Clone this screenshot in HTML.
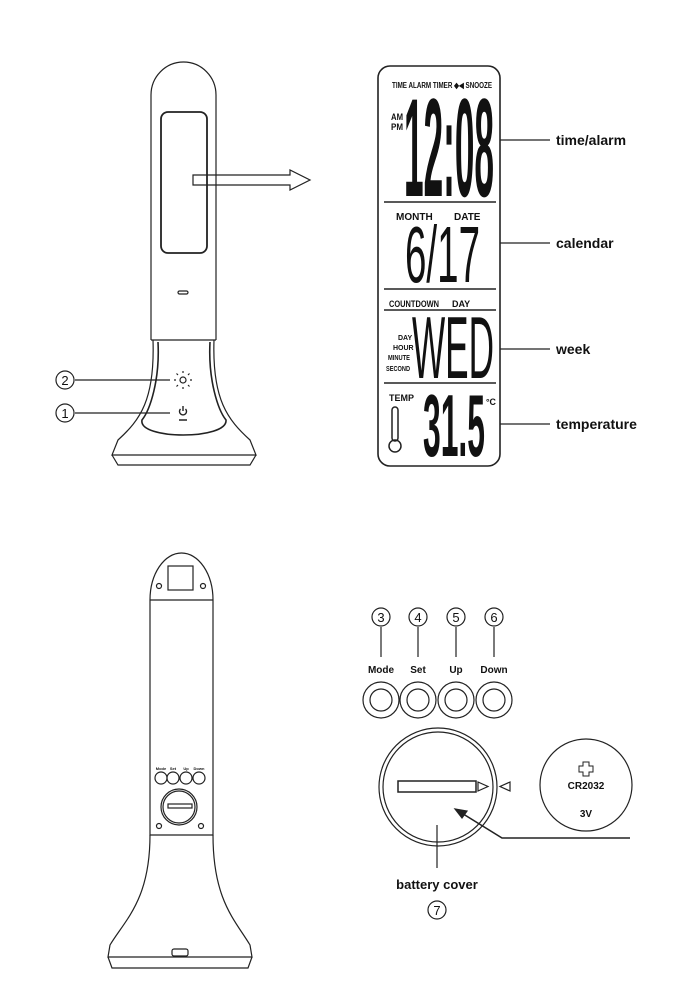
<!DOCTYPE html>
<html><head><meta charset="utf-8"><style>
html,body{margin:0;padding:0;background:#fff}
svg{display:block}
text{font-family:"Liberation Sans",sans-serif}
</style></head><body>
<svg width="697" height="1000" viewBox="0 0 697 1000" xmlns="http://www.w3.org/2000/svg">
<g fill="none" stroke="#222" stroke-width="1.2">
<!-- Top lamp -->
<path d="M151,340 L151,95 A32.5,33 0 0 1 216,95 L216,340"/>
<rect x="161" y="112" width="46" height="141" rx="7" stroke-width="1.8"/>
<rect x="178" y="291" width="10" height="3" rx="1.5"/>
<path d="M151,340 L216,340"/>
<path d="M153,340 C155,400 140,420 118,440 L112,455 L256,455 L250,440 C228,420 212,400 214,340"/>
<path d="M158,342 C160,380 150,410 142,420 C138,440 228,440 226,420 C218,410 208,380 210,342" stroke-width="1.6"/>
<path d="M112,455 L118,465 L250,465 L256,455"/>
<path d="M193,175 L290,175 L290,170 L310,180 L290,190 L290,185 L193,185 Z"/>
<circle cx="65" cy="380" r="9"/>
<circle cx="65" cy="413" r="9"/>
<path d="M75,380 L170,380 M75,413 L170,413"/>
<circle cx="183" cy="380" r="3"/>
<path d="M183,373v-2M183,387v2M176,380h-2M190,380h2M178,375l-1.5,-1.5M188,385l1.5,1.5M188,375l1.5,-1.5M178,385l-1.5,1.5"/>
<path d="M180.5,409 A3.5,3.5 0 1 0 185.5,409 M183,406v5" stroke-width="1.4"/>
<path d="M179,420h8" stroke-width="1.5"/>
<!-- LCD -->
<rect x="378" y="66" width="122" height="400" rx="12" stroke-width="1.6"/>
<path d="M384,202H496M384,289H496M384,310H496M384,383H496" stroke-width="1.5"/>
<path d="M500,140H550M500,243H550M500,349H550M500,424H550"/>
<!-- thermometer -->
<rect x="392" y="407" width="6" height="34" rx="3" stroke-width="1.5"/>
<circle cx="395" cy="446" r="6" stroke-width="1.5"/>
<!-- Bottom lamp -->
<path d="M150,835 L150,600 A31.5,47 0 0 1 213,600 L213,835 Z"/>
<path d="M150,600 L213,600"/>
<rect x="168" y="566" width="25" height="24"/>
<circle cx="159" cy="586" r="2.5"/><circle cx="203" cy="586" r="2.5"/>
<circle cx="159" cy="826" r="2.5"/><circle cx="201" cy="826" r="2.5"/>
<circle cx="161" cy="778" r="6"/><circle cx="173" cy="778" r="6"/><circle cx="186" cy="778" r="6"/><circle cx="199" cy="778" r="6"/>
<circle cx="179" cy="807" r="18"/><circle cx="179" cy="807" r="16"/>
<rect x="168" y="804" width="24" height="4"/>
<path d="M150,835 C150,900 125,920 110,945 L108,957 L252,957 L250,945 C235,920 213,900 213,835"/>
<path d="M108,957 L112,968 L248,968 L252,957"/>
<rect x="172" y="949" width="16" height="7" rx="2"/>
<!-- Right bottom -->
<circle cx="381" cy="617" r="9"/><circle cx="418" cy="617" r="9"/><circle cx="456" cy="617" r="9"/><circle cx="494" cy="617" r="9"/>
<path d="M381,627V657M418,627V657M456,627V657M494,627V657"/>
<circle cx="381" cy="700" r="18"/><circle cx="381" cy="700" r="11"/>
<circle cx="418" cy="700" r="18"/><circle cx="418" cy="700" r="11"/>
<circle cx="456" cy="700" r="18"/><circle cx="456" cy="700" r="11"/>
<circle cx="494" cy="700" r="18"/><circle cx="494" cy="700" r="11"/>
<circle cx="438" cy="787" r="59"/><circle cx="438" cy="787" r="55"/>
<rect x="398" y="781" width="78" height="11" stroke-width="1.5"/>
<path d="M478,782 L488,786.5 L478,791 Z M510,782 L500,786.5 L510,791 Z"/>
<path d="M437,825V868"/>
<path d="M630,838 L502,838 L460,812" stroke-width="1.6"/>
<path d="M455,809 L467,811 L462,818 Z" fill="#222"/>
<circle cx="586" cy="785" r="46"/>
<path d="M583,762h6v4h4v6h-4v4h-6v-4h-4v-6h4z" stroke-width="1"/>
<circle cx="437" cy="910" r="9"/>
</g>
<g fill="#111">
<text x="65" y="385" font-size="13" text-anchor="middle">2</text>
<text x="65" y="418" font-size="13" text-anchor="middle">1</text>
<text x="392" y="88" font-size="8" font-weight="bold" textLength="100" lengthAdjust="spacingAndGlyphs">TIME ALARM TIMER ◆◀ SNOOZE</text>
<text x="391" y="120" font-size="9" font-weight="bold" textLength="12" lengthAdjust="spacingAndGlyphs">AM</text>
<text x="391" y="130" font-size="9" font-weight="bold" textLength="12" lengthAdjust="spacingAndGlyphs">PM</text>
<text x="404" y="196" font-size="140" font-weight="bold" textLength="90" lengthAdjust="spacingAndGlyphs">12:08</text>
<text x="396" y="220" font-size="10" font-weight="bold">MONTH</text>
<text x="454" y="220" font-size="10" font-weight="bold">DATE</text>
<text x="405" y="282" font-size="80" textLength="75" lengthAdjust="spacingAndGlyphs">6/17</text>
<text x="389" y="307" font-size="9" font-weight="bold" textLength="50" lengthAdjust="spacingAndGlyphs">COUNTDOWN</text>
<text x="452" y="307" font-size="9" font-weight="bold">DAY</text>
<text x="398" y="340" font-size="7" font-weight="bold">DAY</text>
<text x="393" y="350" font-size="7" font-weight="bold">HOUR</text>
<text x="388" y="360" font-size="7" font-weight="bold" textLength="22" lengthAdjust="spacingAndGlyphs">MINUTE</text>
<text x="386" y="371" font-size="7" font-weight="bold" textLength="24" lengthAdjust="spacingAndGlyphs">SECOND</text>
<text x="412" y="378" font-size="88" textLength="82" lengthAdjust="spacingAndGlyphs">WED</text>
<text x="389" y="401" font-size="9" font-weight="bold">TEMP</text>
<text x="423" y="456" font-size="88" font-weight="bold" textLength="62" lengthAdjust="spacingAndGlyphs">31.5</text>
<text x="486" y="405" font-size="9" font-weight="bold" textLength="10" lengthAdjust="spacingAndGlyphs">°C</text>
<text x="556" y="145" font-size="14" font-weight="bold">time/alarm</text>
<text x="556" y="248" font-size="14" font-weight="bold">calendar</text>
<text x="556" y="354" font-size="14" font-weight="bold">week</text>
<text x="556" y="429" font-size="14" font-weight="bold">temperature</text>
<g font-size="4" font-weight="bold" text-anchor="middle">
<text x="161" y="770">Mode</text><text x="173" y="770">Set</text><text x="186" y="770">Up</text><text x="199" y="770">Down</text></g>
<g font-size="13" text-anchor="middle">
<text x="381" y="622">3</text><text x="418" y="622">4</text><text x="456" y="622">5</text><text x="494" y="622">6</text><text x="437" y="915">7</text></g>
<g font-size="10" font-weight="bold" text-anchor="middle">
<text x="381" y="673">Mode</text><text x="418" y="673">Set</text><text x="456" y="673">Up</text><text x="494" y="673">Down</text>
<text x="586" y="789">CR2032</text><text x="586" y="817">3V</text></g>
<text x="437" y="889" font-size="13" font-weight="bold" text-anchor="middle">battery cover</text>
</g>
</svg>
</body></html>
